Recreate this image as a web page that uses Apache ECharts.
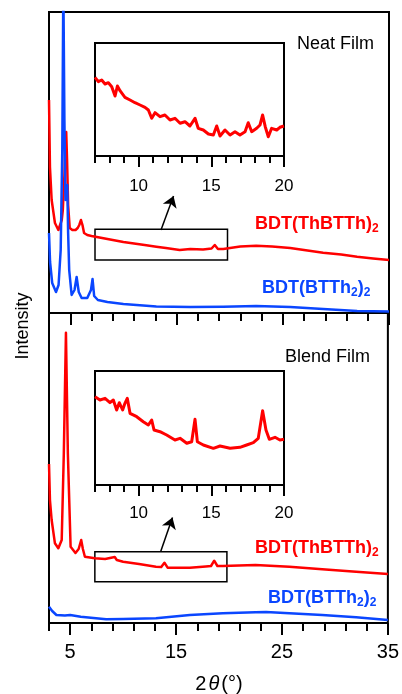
<!DOCTYPE html>
<html><head><meta charset="utf-8">
<script src="https://cdn.jsdelivr.net/npm/echarts@6/dist/echarts.min.js"></script>
<style>html,body{margin:0;padding:0;background:#fff}#c{width:402px;height:694px}</style>
</head><body><div id="c"></div>
<script>
const FONT = '"Liberation Sans", Arial, Helvetica, sans-serif';
const RED = '#ff0000', BLUE = '#0a46ff';

// tick values
const majorTicks = [5, 15, 25, 35];
const minorTicks = [3, 7, 9, 11, 13, 17, 19, 21, 23, 27, 29, 31, 33];
const insetMajorTicks = [10, 15, 20];
const insetMinorTicks = [7, 8, 9, 11, 12, 13, 14, 16, 17, 18, 19];

// Neat film - BDT(ThBTTh)2
const neatRedX = [3.0, 3.09, 3.25, 3.56, 3.88, 4.2, 4.3, 4.45, 4.55, 4.62, 4.7, 4.8, 4.95, 5.2, 5.5, 5.7, 5.85, 6.01, 6.15, 6.3, 6.6, 7.0, 8.0, 9.0, 10.0, 11.0, 12.0, 13.1, 14.0, 15.3, 16.3, 17.5, 18.3, 18.6, 18.9, 19.4, 21.0, 22.5, 24.0, 25.7, 27.0, 28.8, 30.5, 32.0, 33.5, 35.0];
const neatRedY = [213, 146, 113, 90, 83, 93, 103, 138, 173, 181, 153, 108, 85, 83, 83, 85, 88, 93, 88, 80, 78, 77, 75, 73, 71, 69.5, 68, 66.3, 65, 63, 64, 63.5, 64.5, 68, 64, 64, 66.5, 67.3, 66.5, 65, 63, 60.3, 58.5, 56.3, 54.5, 53];
// Neat film - BDT(BTTh2)2
const neatBlueX = [3.0, 3.1, 3.3, 3.66, 3.9, 4.1, 4.25, 4.35, 4.45, 4.55, 4.62, 4.72, 4.8, 4.9, 5.13, 5.4, 5.6, 5.8, 6.07, 6.6, 6.95, 7.1, 7.25, 7.6, 8.5, 10.0, 13.1, 16.3, 19.4, 22.5, 25.7, 28.8, 32.0, 35.0];
const neatBlueY = [80, 51, 30, 21, 28, 63, 163, 330, 193, 113, 125, 128, 80, 43, 18, 23, 36, 21, 15, 15, 23, 34, 17, 13, 11, 9, 6.5, 6, 6.3, 7, 6, 4, 2, 1.5];
// Blend film - BDT(ThBTTh)2
const blendRedX = [3.0, 3.09, 3.25, 3.56, 3.88, 4.2, 4.4, 4.6, 4.78, 5.04, 5.5, 5.8, 6.04, 6.2, 6.39, 7.33, 8.3, 9.21, 9.4, 10.0, 11.5, 13.1, 13.6, 13.9, 14.2, 16.3, 17.8, 18.3, 18.6, 18.9, 19.4, 22.5, 25.7, 28.8, 32.0, 35.0];
const blendRedY = [159, 123, 103, 79.7, 74.7, 83, 170, 290.3, 170, 76.3, 70, 74, 83, 74, 66.3, 64.7, 64, 66, 63, 61.3, 59, 56.3, 56, 60.3, 55.3, 55.3, 56.5, 57, 62.3, 57, 57, 58, 56.3, 53.7, 51.3, 49];
// Blend film - BDT(BTTh2)2
const blendBlueX = [3.0, 3.3, 3.7, 4.5, 5.0, 6.0, 8.4, 10.0, 13.1, 16.3, 19.4, 22.5, 23.5, 25.7, 28.8, 32.0, 35.0];
const blendBlueY = [16.3, 12, 8, 7.5, 8, 6.3, 3.7, 4, 4.7, 8, 9.7, 10.7, 11, 9.7, 8, 5.7, 3];
// Inset, neat film
const neatInsetX = [7.0, 7.23, 7.46, 7.69, 7.92, 8.15, 8.38, 8.54, 8.72, 9.06, 9.41, 9.75, 10.1, 10.44, 10.67, 10.9, 11.13, 11.47, 11.81, 12.16, 12.5, 12.85, 13.19, 13.53, 13.88, 14.1, 14.45, 14.8, 15.14, 15.37, 15.6, 15.94, 16.29, 16.63, 16.97, 17.32, 17.54, 17.78, 18.12, 18.35, 18.53, 18.71, 18.92, 19.15, 19.5, 19.72, 20.0];
const neatInsetY = [78.7, 74.3, 76, 72, 73.3, 69.3, 60, 70, 65.3, 58.7, 56, 53.3, 51, 48.7, 46, 37.7, 43.3, 39.3, 41, 36, 37.7, 32.7, 34.3, 30, 37.7, 27.7, 26, 22, 21, 30, 20, 26, 21, 24.3, 21, 24.3, 33.3, 24.3, 27.7, 31, 41, 29.3, 19.3, 27.7, 26, 28.7, 30];
// Inset, blend film
const blendInsetX = [7.0, 7.34, 7.69, 8.03, 8.26, 8.49, 8.67, 8.9, 9.06, 9.22, 9.41, 9.87, 10.32, 10.67, 10.9, 11.06, 11.47, 11.93, 12.5, 12.85, 13.31, 13.65, 13.88, 14.04, 14.45, 15.14, 15.6, 16.29, 16.97, 17.43, 17.89, 18.23, 18.53, 18.76, 18.99, 19.38, 19.72, 20.0];
const blendInsetY = [88.3, 85, 86.7, 82.3, 85, 75, 82.3, 75, 81.7, 86.7, 71.7, 68.3, 63.3, 60, 65, 55, 53.3, 50, 45, 46.7, 41.7, 43.3, 65.7, 43.3, 40, 36.7, 39, 36.7, 37.7, 40, 42.3, 46.7, 74.3, 55, 45.7, 47.7, 45, 45.7];

const pairs = (xs, ys) => xs.map((x, i) => [x, ys[i]]);

function xAx(grid, min, max, ticks, len, labels, fs, margin) {
  return {
    type: 'value', gridIndex: grid, min: min, max: max, position: 'bottom',
    axisLine: {show: false},
    splitLine: {show: false},
    axisTick: {show: true, customValues: ticks, length: len, inside: false, lineStyle: {color: '#000', width: 2}},
    axisLabel: labels ? {show: true, customValues: labels, color: '#000', fontFamily: FONT, fontSize: fs, margin: margin} : {show: false}
  };
}
function yAx(grid, max) {
  return {type: 'value', gridIndex: grid, min: 0, max: max, show: false};
}
function line(data, color, xi, yi, w, extra) {
  return Object.assign({
    type: 'line', data: data, xAxisIndex: xi, yAxisIndex: yi, showSymbol: false, symbol: 'none',
    clip: true, silent: true, lineStyle: {color: color, width: w, join: 'round'}, itemStyle: {color: color}
  }, extra || {});
}
const boxStyle = {color: 'rgba(0,0,0,0)', borderColor: '#000', borderWidth: 1.5};
const arrowStyle = {color: '#000', width: 1.5, type: 'solid'};
const sub = (c) => ({b: {font: 'bold 18px ' + FONT, fill: c, color: c}, s: {font: 'bold 12px ' + FONT, fill: c, color: c, padding: [10, 0, 0, 0]}});

const chart = echarts.init(document.getElementById('c'), null, {renderer: 'canvas'});
chart.setOption({
  animation: false,
  backgroundColor: '#fff',
  grid: [
    {left: 49, top: 12, width: 340, height: 301, show: true, borderColor: '#000', borderWidth: 2},
    {left: 49, top: 313, width: 340, height: 310, show: true, borderColor: '#000', borderWidth: 2},
    {left: 95, top: 43, width: 189, height: 113, show: true, borderColor: '#000', borderWidth: 2},
    {left: 95, top: 371, width: 189, height: 114, show: true, borderColor: '#000', borderWidth: 2}
  ],
  xAxis: [
    xAx(0, 3, 35, majorTicks, 12, null),
    xAx(0, 3, 35, minorTicks, 8, null),
    xAx(1, 3, 35, majorTicks, 12, majorTicks, 20, 19),
    xAx(1, 3, 35, minorTicks, 8, null),
    xAx(2, 7, 20, insetMajorTicks, 11, insetMajorTicks, 17, 22),
    xAx(2, 7, 20, insetMinorTicks, 7, null),
    xAx(3, 7, 20, insetMajorTicks, 11, insetMajorTicks, 17, 20),
    xAx(3, 7, 20, insetMinorTicks, 7, null)
  ],
  yAxis: [yAx(0, 301), yAx(1, 310), yAx(2, 113), yAx(3, 114)],
  series: [
    line(pairs(neatRedX, neatRedY), RED, 0, 0, 2.5, {
      markArea: {silent: true, itemStyle: boxStyle, label: {show: false}, data: [[{coord: [7.33, 53]}, {coord: [19.8, 83.7]}]]},
      markLine: {silent: true, symbol: ['none', 'arrow'], symbolSize: 11, lineStyle: arrowStyle, label: {show: false},
        data: [[{coord: [13.54, 83]}, {coord: [14.72, 117]}]]}
    }),
    line(pairs(neatBlueX, neatBlueY), BLUE, 0, 0, 2.5),
    line(pairs(blendRedX, blendRedY), RED, 2, 1, 2.5, {
      markArea: {silent: true, itemStyle: boxStyle, label: {show: false}, data: [[{coord: [7.33, 41.3]}, {coord: [19.8, 71.3]}]]},
      markLine: {silent: true, symbol: ['none', 'arrow'], symbolSize: 11, lineStyle: arrowStyle, label: {show: false},
        data: [[{coord: [13.54, 71.3]}, {coord: [14.66, 105.5]}]]}
    }),
    line(pairs(blendBlueX, blendBlueY), BLUE, 2, 1, 2.5),
    line(pairs(neatInsetX, neatInsetY), RED, 4, 2, 3),
    line(pairs(blendInsetX, blendInsetY), RED, 6, 3, 3)
  ],
  graphic: [
    {type: 'text', x: 297, y: 44, style: {text: 'Neat Film', font: '18px ' + FONT, fill: '#000', textVerticalAlign: 'middle'}},
    {type: 'text', x: 285, y: 357, style: {text: 'Blend Film', font: '18px ' + FONT, fill: '#000', textVerticalAlign: 'middle'}},
    {type: 'text', x: 255, y: 224, style: {text: '{b|BDT(ThBTTh)}{s|2}', textVerticalAlign: 'middle', rich: sub(RED)}},
    {type: 'text', x: 262, y: 288, style: {text: '{b|BDT(BTTh}{s|2}{b|)}{s|2}', textVerticalAlign: 'middle', rich: sub(BLUE)}},
    {type: 'text', x: 255, y: 548, style: {text: '{b|BDT(ThBTTh)}{s|2}', textVerticalAlign: 'middle', rich: sub(RED)}},
    {type: 'text', x: 268, y: 598, style: {text: '{b|BDT(BTTh}{s|2}{b|)}{s|2}', textVerticalAlign: 'middle', rich: sub(BLUE)}},
    {type: 'text', x: 23, y: 326, rotation: Math.PI / 2, style: {text: 'Intensity', font: '18px ' + FONT, fill: '#000', textAlign: 'center', textVerticalAlign: 'middle'}},
    {type: 'text', x: 219, y: 684, style: {text: '2{i|θ}(°)', font: '20px ' + FONT, fill: '#000', textAlign: 'center', textVerticalAlign: 'middle',
      rich: {i: {font: 'italic 20px ' + FONT, fill: '#000', color: '#000', padding: [0, 2, 0, 2]}}}}
  ]
});
</script></body></html>
